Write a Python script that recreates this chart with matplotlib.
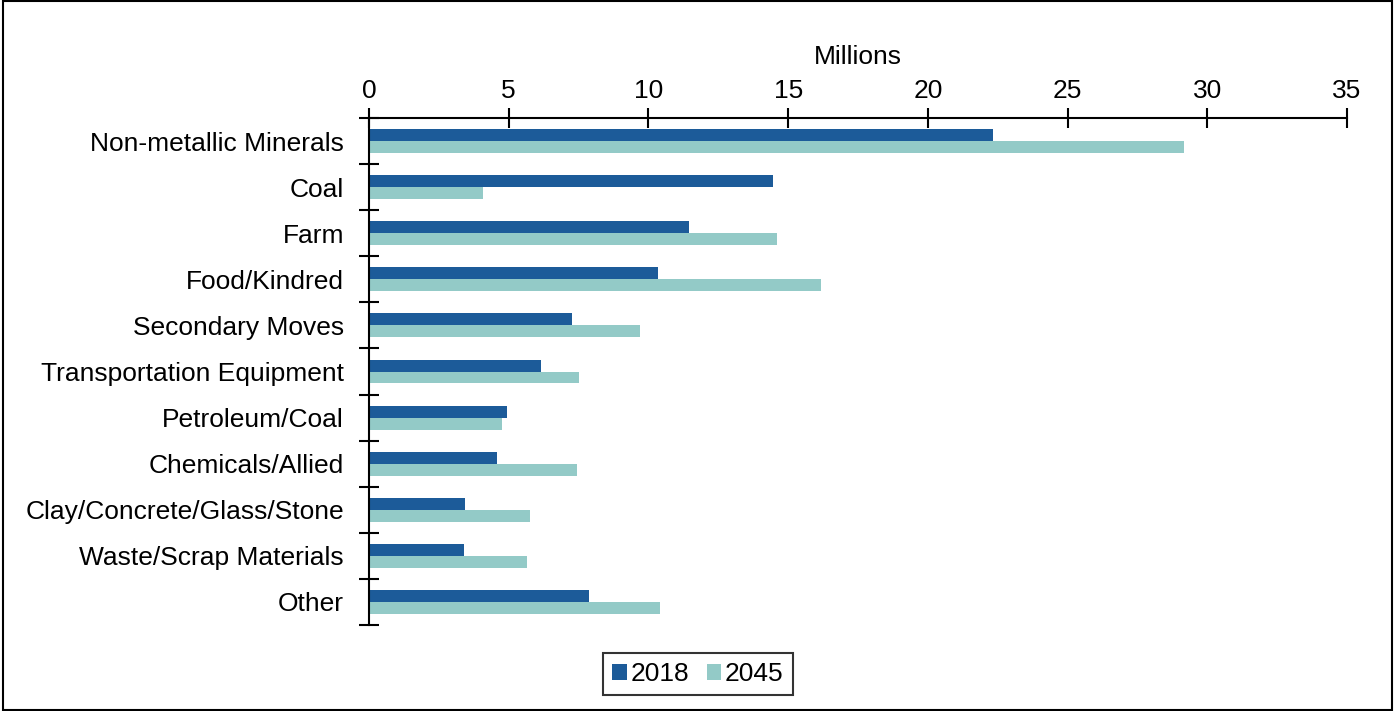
import numpy as np
import matplotlib.pyplot as plt
from matplotlib.patches import Rectangle

plt.rcParams['font.family'] = ['Liberation Sans', 'DejaVu Sans']

categories = ["Non-metallic Minerals", "Coal", "Farm", "Food/Kindred", "Secondary Moves",
              "Transportation Equipment", "Petroleum/Coal", "Chemicals/Allied",
              "Clay/Concrete/Glass/Stone", "Waste/Scrap Materials", "Other"]
vals_2018 = [22.33, 14.46, 11.45, 10.34, 7.27, 6.16, 4.94, 4.58, 3.44, 3.40, 7.87]
vals_2045 = [29.17, 4.08, 14.60, 16.18, 9.70, 7.52, 4.76, 7.44, 5.76, 5.65, 10.42]

c2018 = "#1c5b99"
c2045 = "#93cac7"
fs = 19

fig = plt.figure(figsize=(13.95, 7.11), dpi=100)
ax = fig.add_axes([369 / 1395, 1 - 625 / 711, (1347 - 369) / 1395, (625 - 118) / 711])

y = np.arange(len(categories))
h = 0.26
ax.barh(y - h / 2, vals_2018, height=h, color=c2018, label="2018")
ax.barh(y + h / 2, vals_2045, height=h, color=c2045, label="2045")

ax.set_xlim(0, 35)
ax.set_ylim(len(categories) - 0.5, -0.5)
ax.xaxis.tick_top()
ax.xaxis.set_label_position("top")
ax.set_xticks(np.arange(0, 36, 5))
ax.set_xlabel("Millions", fontsize=fs, labelpad=11)

ax.set_yticks(y)
ax.set_yticklabels(categories, fontsize=fs)
ax.set_yticks(np.arange(-0.5, len(categories), 1), minor=True)
ax.tick_params(axis="y", which="major", length=0, pad=18)
ax.tick_params(axis="y", which="minor", length=15, width=1.5, direction="inout")
ax.tick_params(axis="x", which="major", length=15, width=1.5, direction="inout",
               labelsize=fs, pad=3)

for s in ["right", "bottom"]:
    ax.spines[s].set_visible(False)
for s in ["left", "top"]:
    ax.spines[s].set_linewidth(1.5)

leg = fig.legend(loc="center", bbox_to_anchor=(698 / 1395, 1 - 674 / 711), ncol=2,
                 fontsize=fs, frameon=True, fancybox=False, handlelength=0.55,
                 handleheight=0.55, handletextpad=0.15, columnspacing=0.65,
                 borderpad=0.35, borderaxespad=0.0)
leg.get_frame().set_edgecolor("black")
leg.get_frame().set_linewidth(1.5)

fig.patches.append(Rectangle((0.002, 0.002), 0.996, 0.996, transform=fig.transFigure,
                             fill=False, edgecolor="black", linewidth=1.5))

fig.savefig("out.png", dpi=100)
